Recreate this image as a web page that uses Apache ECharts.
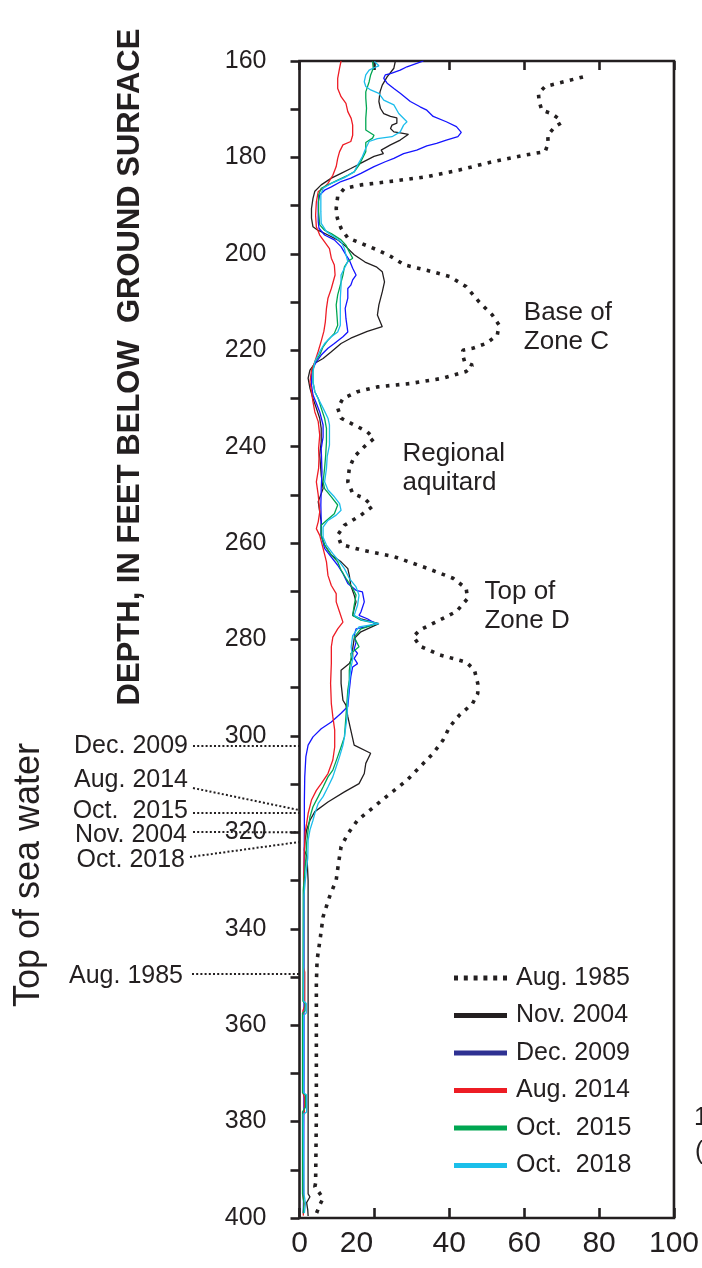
<!DOCTYPE html>
<html>
<head>
<meta charset="utf-8">
<script src="https://cdn.jsdelivr.net/npm/echarts@6/dist/echarts.min.js"></script>
<style>
  html, body { margin: 0; padding: 0; background: #ffffff; }
  #chart { width: 702px; height: 1268px; }
</style>
</head>
<body>
<div id="chart"></div>
<script>
// Depth profiles: each point is [value, depth in feet below ground surface]
const aug1985 = [[75.7,163.3],[65.6,165.3],[63.8,166.7],[64.0,168.4],[64.7,170.2],[67.3,170.9],[69.1,171.9],[69.8,172.9],[68.2,173.6],[66.3,175.4],[66.4,177.1],[65.6,178.8],[60.3,179.5],[51.5,180.9],[42.7,182.6],[34.0,184.0],[25.2,184.9],[16.4,185.7],[12.0,186.4],[10.2,188.1],[9.8,190.6],[10.1,192.6],[11.1,194.7],[12.9,196.7],[16.4,197.8],[20.8,199.2],[24.5,200.6],[28.0,202.3],[34.0,203.4],[40.1,204.7],[44.5,206.8],[48.0,210.0],[51.5,212.7],[53.3,214.8],[52.8,216.9],[49.8,218.6],[46.2,219.6],[43.6,220.0],[43.6,221.0],[44.1,222.4],[46.2,223.1],[44.5,224.4],[38.3,225.8],[29.6,226.9],[20.8,227.6],[15.5,228.6],[11.6,230.0],[10.2,232.0],[11.1,234.1],[14.6,235.5],[18.1,236.9],[19.9,238.3],[17.3,240.0],[14.6,242.1],[13.3,244.5],[12.9,247.3],[14.2,249.7],[17.3,250.7],[19.5,252.4],[16.4,254.2],[12.0,256.3],[10.2,258.3],[11.1,260.3],[16.4,261.4],[25.2,262.8],[34.0,265.2],[41.0,267.3],[44.5,269.4],[44.9,271.5],[41.9,274.2],[36.6,276.3],[32.2,278.0],[30.4,279.4],[32.2,281.4],[37.5,283.2],[44.5,284.7],[46.7,286.3],[47.6,289.1],[47.6,291.2],[46.2,293.3],[42.7,295.7],[40.1,298.1],[38.3,300.9],[35.7,303.6],[32.2,306.4],[28.7,309.2],[24.3,311.9],[19.9,314.7],[15.5,317.5],[12.9,320.3],[11.1,323.0],[10.4,326.5],[9.8,329.9],[8.0,333.4],[6.3,337.5],[5.6,341.6],[4.7,346.5],[4.5,351.3],[4.5,365.1],[4.5,378.9],[4.3,392.8],[4.1,393.5],[5.4,394.9],[6.3,395.9],[5.4,397.3],[4.5,399.1]];

const nov2004 = [[25.6,160.0],[25.2,161.5],[23.4,163.3],[22.1,165.0],[21.5,166.4],[21.2,168.4],[21.6,169.8],[22.5,170.9],[24.3,171.5],[26.0,171.8],[26.0,172.9],[24.7,173.3],[24.3,174.0],[25.2,174.7],[26.9,174.9],[29.1,175.2],[26.9,176.4],[24.3,177.4],[21.8,178.5],[22.4,179.2],[19.9,179.8],[16.4,181.2],[13.7,182.3],[11.1,183.3],[8.5,184.3],[5.8,185.7],[4.1,187.0],[3.6,188.5],[3.2,190.6],[3.2,192.6],[3.6,194.4],[4.9,195.1],[7.6,196.1],[10.2,197.1],[12.4,198.5],[14.6,200.2],[17.5,201.7],[20.5,202.7],[22.1,203.7],[22.7,205.8],[22.1,207.9],[21.2,210.6],[20.8,212.7],[22.1,215.1],[18.1,216.1],[13.7,217.5],[11.1,218.6],[8.5,220.3],[6.3,221.7],[4.1,222.7],[2.8,224.1],[2.3,225.8],[2.8,227.9],[3.6,230.0],[4.5,232.0],[5.4,234.1],[5.8,236.2],[5.8,239.0],[5.4,241.7],[5.8,245.9],[6.3,248.7],[5.0,251.4],[5.4,253.5],[5.8,255.6],[5.8,258.4],[6.7,260.4],[8.5,262.5],[11.1,263.9],[12.9,265.3],[13.3,266.7],[13.7,268.8],[14.6,270.8],[15.1,272.2],[14.6,273.6],[14.2,275.0],[16.4,275.7],[21.2,276.7],[16.4,278.4],[14.6,279.8],[14.2,281.9],[14.2,283.6],[13.3,285.0],[11.1,286.4],[11.1,289.1],[11.6,292.6],[12.4,293.6],[12.9,296.0],[13.7,298.8],[14.6,301.9],[19.0,303.6],[17.7,305.7],[17.3,307.8],[15.9,309.9],[12.0,311.6],[7.6,313.7],[4.1,315.7],[2.8,317.5],[1.9,319.5],[1.5,321.6],[1.3,323.7],[2.0,325.0],[2.3,330.0],[2.3,360.0],[2.3,395.0],[2.8,395.6],[1.9,396.8],[2.2,398.3],[2.3,399.6]];

const dec2009 = [[33.1,160.0],[31.3,160.5],[28.7,161.2],[26.9,161.9],[24.3,162.6],[22.9,162.9],[22.5,163.6],[23.4,164.6],[25.2,165.7],[26.9,166.7],[29.6,168.4],[32.2,169.5],[34.0,170.2],[35.7,171.5],[39.2,172.6],[41.9,173.6],[43.2,174.8],[42.3,175.7],[39.2,176.4],[36.6,177.1],[34.0,177.6],[31.3,178.5],[27.8,179.2],[25.2,180.2],[22.9,180.9],[19.9,181.9],[16.4,183.3],[13.7,184.3],[11.1,185.0],[8.5,186.1],[6.7,186.8],[5.4,187.8],[5.0,189.2],[5.0,191.3],[5.0,193.3],[5.2,194.7],[6.7,196.1],[9.3,197.1],[11.1,198.5],[12.4,200.2],[13.3,201.3],[14.2,203.0],[15.1,204.4],[14.2,205.4],[13.7,206.5],[12.9,207.2],[12.9,209.2],[12.2,211.3],[12.4,213.4],[12.9,216.2],[11.6,217.2],[9.3,218.6],[7.6,219.6],[5.8,221.0],[4.5,222.4],[3.6,223.8],[3.2,225.1],[3.2,227.2],[3.6,229.3],[4.5,231.0],[5.4,232.8],[6.3,235.5],[6.3,238.0],[5.8,240.4],[6.0,245.2],[5.8,248.7],[5.7,252.1],[5.8,255.6],[5.8,258.4],[6.7,261.1],[8.5,262.9],[10.2,264.6],[11.6,266.3],[12.9,268.4],[15.1,269.8],[16.8,270.1],[17.3,272.2],[16.4,274.3],[15.9,275.0],[18.1,275.7],[20.3,276.7],[17.7,277.4],[15.1,277.8],[14.6,279.2],[15.1,280.6],[14.6,282.0],[15.5,282.9],[14.6,283.9],[15.5,285.0],[14.2,285.7],[13.7,287.7],[13.3,290.5],[12.9,293.9],[11.1,295.3],[8.5,297.1],[5.8,298.5],[3.6,300.2],[2.3,301.9],[1.7,304.3],[1.4,308.5],[1.3,313.3],[1.3,319.5],[1.2,330.0],[1.2,370.0],[1.1,395.0],[1.0,399.0]];

const aug2014 = [[11.1,160.0],[10.7,161.5],[10.2,163.6],[10.2,165.7],[11.1,167.4],[12.4,168.8],[12.9,170.5],[13.8,171.9],[14.2,173.3],[14.2,175.4],[13.7,176.7],[11.6,177.4],[10.7,178.8],[10.2,180.2],[9.8,181.9],[8.9,183.7],[7.6,185.4],[6.3,186.4],[5.0,187.1],[4.5,189.2],[4.3,192.0],[4.5,194.4],[5.4,196.1],[6.7,197.5],[8.0,198.9],[8.5,200.9],[9.3,202.3],[9.5,204.4],[8.5,207.2],[7.6,209.2],[7.2,211.3],[6.9,214.1],[6.5,216.1],[5.8,218.1],[5.0,220.2],[4.1,222.4],[3.2,224.1],[2.8,226.6],[3.2,228.6],[3.6,230.7],[4.1,232.8],[5.0,234.8],[5.4,237.6],[5.1,240.4],[5.2,242.5],[5.1,244.5],[4.5,247.3],[5.0,250.0],[5.4,253.5],[5.0,255.6],[4.5,257.0],[5.4,258.4],[6.3,261.1],[7.2,263.9],[7.6,266.7],[8.5,268.8],[9.8,270.5],[9.8,272.2],[10.7,274.3],[11.6,276.4],[10.2,277.8],[8.9,279.5],[8.5,281.5],[8.5,285.0],[8.3,289.1],[8.5,293.3],[8.9,296.0],[9.4,298.8],[9.4,302.3],[8.9,305.0],[7.6,307.8],[5.8,309.9],[4.5,311.3],[3.2,313.3],[2.3,316.1],[1.9,318.2],[1.5,319.9],[1.3,323.7],[1.1,330.0],[1.1,348.0],[1.4,349.0],[1.4,356.0],[0.9,357.0],[0.9,374.0],[1.3,375.0],[1.3,378.0],[0.9,379.0],[0.9,395.0],[1.2,397.0],[1.0,399.5]];

const oct2015 = [[19.5,160.1],[19.7,161.5],[19.0,162.9],[18.6,164.3],[17.7,166.4],[17.7,167.7],[17.9,169.8],[17.7,171.9],[17.7,174.3],[19.9,175.4],[19.5,176.0],[17.7,176.9],[17.7,178.8],[16.8,180.2],[15.9,181.6],[14.6,183.0],[12.9,183.7],[10.2,184.7],[7.6,185.7],[5.8,186.4],[5.1,187.8],[5.1,191.3],[5.4,194.0],[6.7,195.1],[8.5,195.8],[11.1,197.1],[12.4,198.2],[13.3,199.6],[14.2,200.9],[12.9,201.6],[12.0,202.7],[11.6,204.4],[10.9,206.5],[10.2,208.5],[9.8,210.6],[10.2,214.8],[9.3,216.5],[7.6,217.9],[6.3,219.3],[5.4,221.0],[4.1,222.4],[3.6,224.1],[3.6,226.6],[4.1,228.6],[5.0,230.0],[5.8,232.0],[6.7,234.1],[7.2,236.2],[7.2,239.0],[7.0,241.7],[6.7,244.5],[6.3,247.3],[6.7,248.7],[8.5,250.4],[10.2,252.1],[9.3,253.9],[7.2,255.3],[5.8,256.3],[5.8,258.4],[6.7,260.4],[8.5,262.5],[10.2,263.9],[11.1,265.6],[12.4,267.3],[14.2,269.4],[15.1,270.8],[14.6,272.9],[14.2,275.0],[16.4,276.0],[20.8,276.7],[16.4,277.8],[14.6,279.5],[15.9,281.5],[13.7,282.9],[13.8,283.6],[13.3,286.4],[13.3,288.4],[12.9,290.5],[12.4,296.0],[12.0,300.2],[11.1,302.3],[10.2,304.3],[8.9,307.1],[7.6,308.5],[6.3,310.6],[5.0,312.6],[3.6,314.7],[2.8,316.8],[2.3,319.5],[1.9,322.3],[1.7,325.4],[1.0,332.0],[0.9,355.0],[1.5,355.5],[1.5,357.0],[0.8,357.5],[0.8,374.0],[1.6,374.5],[1.6,377.0],[0.8,378.0],[0.8,395.0],[1.2,397.0],[1.0,399.0]];

const oct2018 = [[20.0,160.1],[21.2,161.0],[19.9,161.4],[18.6,161.9],[17.7,162.9],[17.3,164.3],[17.7,165.3],[19.0,166.0],[21.2,166.7],[22.5,168.1],[25.2,169.1],[26.5,170.9],[28.7,172.6],[27.8,173.3],[26.9,174.7],[24.7,175.7],[20.8,176.1],[18.6,176.7],[17.7,178.1],[16.8,179.8],[15.5,181.6],[14.6,183.0],[12.0,184.2],[8.5,185.4],[6.3,186.4],[5.7,187.8],[5.7,191.3],[5.8,193.7],[7.2,195.4],[9.3,196.5],[11.1,197.5],[12.0,198.9],[12.4,200.2],[12.9,201.6],[12.0,203.0],[11.1,204.4],[11.1,206.5],[10.9,209.2],[10.9,212.0],[10.9,214.8],[10.2,216.2],[8.5,217.2],[6.7,218.6],[5.4,220.3],[4.1,222.4],[3.6,224.5],[3.6,226.6],[4.1,228.6],[5.0,230.0],[6.3,232.0],[7.6,234.1],[8.0,235.5],[8.0,239.7],[7.4,242.0],[7.2,244.5],[6.7,247.3],[7.6,249.0],[9.3,250.4],[10.7,251.8],[11.1,253.2],[9.8,254.2],[7.6,255.3],[6.3,256.7],[6.3,258.8],[7.2,260.4],[8.9,262.2],[10.7,263.9],[12.0,265.3],[13.3,267.3],[15.1,269.1],[15.9,270.8],[15.5,272.9],[14.6,275.0],[16.8,276.0],[21.2,276.7],[15.9,277.4],[14.2,279.2],[13.8,281.5],[14.2,284.0],[13.6,286.4],[13.3,289.1],[12.9,292.6],[12.7,296.0],[12.0,300.2],[11.6,301.9],[10.7,304.3],[9.8,306.4],[8.9,308.5],[7.6,310.6],[6.3,312.6],[5.0,314.0],[4.1,316.1],[3.6,317.5],[2.8,319.5],[2.3,321.6],[2.2,325.4],[1.8,328.0],[1.2,333.0],[1.1,355.0],[1.8,355.5],[1.8,357.5],[1.1,358.0],[1.1,374.0],[1.9,374.5],[1.9,378.0],[1.0,378.5],[1.2,395.0],[1.6,397.0],[1.3,399.0]];

// Axis ranges and ticks
const xMin = 0, xMax = 100, xStep = 20;
const yMin = 160, yMax = 400, yStep = 10, yLabelStep = 20;

// Series names in legend order
const seriesNames = ['Aug. 1985', 'Nov. 2004', 'Dec. 2009', 'Aug. 2014', 'Oct.  2015', 'Oct.  2018'];

// Labels to the left of the depth axis, with the depth their leader line points at
const sideLabels = ['Dec. 2009', 'Aug. 2014', 'Oct.  2015', 'Nov. 2004', 'Oct. 2018', 'Aug. 1985'];
const sideDepths = [302.1, 315.4, 316.0, 320.0, 322.0, 349.4];

// Zone notes inside the plot: [text, value, depth]
const zoneNotes = [
  ['Base of\nZone C', 59.9, 215.3],
  ['Regional\naquitard', 27.5, 244.5],
  ['Top of\nZone D', 49.4, 273.2]
];

const INK = '#231f20';
const FONT = '"Liberation Sans", Arial, Helvetica, sans-serif';
const colors = {
  'Aug. 1985': INK,
  'Nov. 2004': INK,
  'Dec. 2009': '#1414ff',
  'Aug. 2014': '#ee1c25',
  'Oct.  2015': '#00a651',
  'Oct.  2018': '#1cbdec'
};
const legendColors = {
  'Aug. 1985': INK,
  'Nov. 2004': INK,
  'Dec. 2009': '#2e3192',
  'Aug. 2014': '#ed1c24',
  'Oct.  2015': '#00a651',
  'Oct.  2018': '#1bbfea'
};
const profiles = {
  'Aug. 1985': aug1985,
  'Nov. 2004': nov2004,
  'Dec. 2009': dec2009,
  'Aug. 2014': aug2014,
  'Oct.  2015': oct2015,
  'Oct.  2018': oct2018
};

const dottedIcon = 'path://M0,0h4v5h-4zM9.8,0h4v5h-4zM19.6,0h4v5h-4zM29.4,0h4v5h-4zM39.2,0h4v5h-4zM49,0h4v5h-4z';

const chart = echarts.init(document.getElementById('chart'), null, { renderer: 'canvas' });

const series = seriesNames.map(function (name) {
  const dotted = name === 'Aug. 1985';
  return {
    name: name,
    type: 'line',
    data: profiles[name],
    showSymbol: false,
    symbol: 'none',
    smooth: false,
    silent: true,
    animation: false,
    color: colors[name],
    lineStyle: dotted
      ? { color: colors[name], width: 3.6, type: [3.6, 6.4], cap: 'butt' }
      : { color: colors[name], width: 1.3 }
  };
});

chart.setOption({
  animation: false,
  backgroundColor: '#ffffff',
  grid: {
    left: 299.5, right: 23, top: 61, bottom: 50,
    show: true, borderColor: INK, borderWidth: 2.6, backgroundColor: 'transparent'
  },
  legend: {
    orient: 'vertical',
    left: 449,
    top: 958,
    itemWidth: 53,
    itemHeight: 5,
    itemGap: 7.5,
    selectedMode: false,
    textStyle: { fontSize: 25, color: INK, fontFamily: FONT, lineHeight: 30, padding: [0, 0, 0, 4] },
    data: seriesNames.map(function (name) {
      return {
        name: name,
        icon: name === 'Aug. 1985' ? dottedIcon : 'rect',
        itemStyle: { color: legendColors[name], borderWidth: 0 }
      };
    })
  },
  xAxis: [
    {
      type: 'value', position: 'bottom', min: xMin, max: xMax, interval: xStep,
      axisLine: { show: false },
      splitLine: { show: false },
      axisTick: { show: true, inside: true, length: 10, lineStyle: { color: INK, width: 2.6 } },
      axisLabel: {
        show: true, margin: 11, fontSize: 30, color: INK, fontFamily: FONT,
        formatter: function (v) { return v === 20 ? '{s|' + v + '}' : String(v); },
        rich: { s: { fontSize: 30, color: INK, fontFamily: FONT, padding: [0, 36, 0, 0] } }
      }
    },
    {
      type: 'value', position: 'top', min: xMin, max: xMax, interval: xStep,
      axisLine: { show: false },
      splitLine: { show: false },
      axisTick: { show: true, inside: true, length: 9, lineStyle: { color: INK, width: 2.6 } },
      axisLabel: { show: false }
    }
  ],
  yAxis: {
    type: 'value', inverse: true, min: yMin, max: yMax, interval: yStep,
    axisLine: { show: false },
    splitLine: { show: false },
    axisTick: { show: true, inside: false, length: 9, lineStyle: { color: INK, width: 2.6 } },
    axisLabel: {
      margin: 33, fontSize: 25, color: INK, fontFamily: FONT,
      formatter: function (v) { return v % yLabelStep === 0 ? String(v) : ''; }
    }
  },
  series: series
});

// Texts and leader lines outside the data marks
function px(v, d) {
  return chart.convertToPixel({ xAxisIndex: 0, yAxisIndex: 0 }, [v, d]);
}

const sideTextY = [746, 780, 811, 835, 860, 976];
const sideLeadStartY = [746, 788, 813, 832, 857, 974];
const sideLeadStartX = [193, 193, 193, 193, 190, 192];
const sideTextRight = [188, 188, 188, 187, 185, 183];

const graphics = [];

graphics.push({
  type: 'text', x: 130, y: 367, rotation: Math.PI / 2, silent: true,
  style: {
    text: 'DEPTH, IN FEET BELOW  GROUND SURFACE',
    align: 'center', verticalAlign: 'middle',
    fontSize: 31, fontWeight: 'bold', fontFamily: FONT, fill: INK
  }
});

graphics.push({
  type: 'text', x: 29, y: 875, rotation: Math.PI / 2, silent: true,
  style: {
    text: 'Top of sea water',
    align: 'center', verticalAlign: 'middle',
    fontSize: 36, fontFamily: FONT, fill: INK
  }
});

sideLabels.forEach(function (label, i) {
  const end = px(0, sideDepths[i]);
  graphics.push({
    type: 'line', silent: true, z: 5,
    shape: { x1: sideLeadStartX[i], y1: sideLeadStartY[i], x2: end[0], y2: end[1] },
    style: { stroke: INK, lineWidth: 2, lineDash: [2, 2.2] }
  });
  graphics.push({
    type: 'text', x: sideTextRight[i], y: sideTextY[i], silent: true,
    style: {
      text: label, align: 'right', verticalAlign: 'middle',
      fontSize: 25, fontFamily: FONT, fill: INK
    }
  });
});

zoneNotes.forEach(function (note) {
  const p = px(note[1], note[2]);
  graphics.push({
    type: 'text', x: p[0], y: p[1], silent: true,
    style: {
      text: note[0], align: 'left', verticalAlign: 'middle',
      fontSize: 26, lineHeight: 29, fontFamily: FONT, fill: INK
    }
  });
});

// Fragments of neighbouring text clipped by the right edge
graphics.push({
  type: 'text', x: 694, y: 1118, silent: true,
  style: { text: '1', align: 'left', verticalAlign: 'middle', fontSize: 25, fontFamily: FONT, fill: INK }
});
graphics.push({
  type: 'text', x: 695, y: 1152, silent: true,
  style: { text: '(', align: 'left', verticalAlign: 'middle', fontSize: 25, fontFamily: FONT, fill: INK }
});

chart.setOption({ graphic: graphics });
</script>
</body>
</html>
